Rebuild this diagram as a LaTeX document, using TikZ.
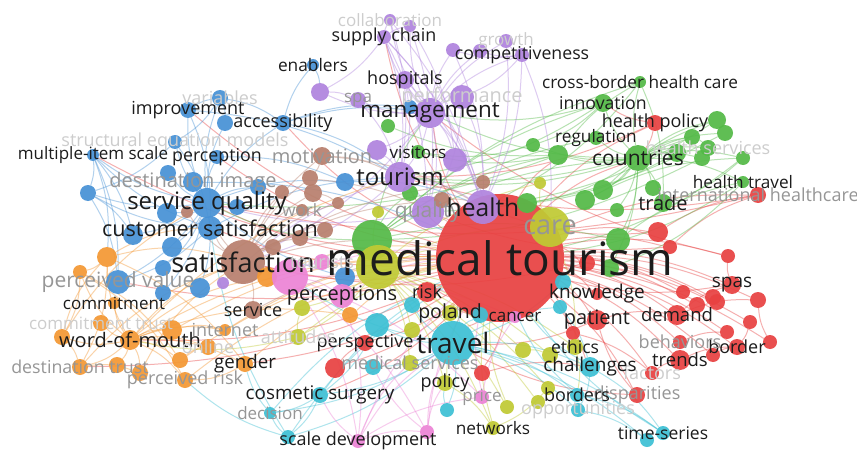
\documentclass[tikz,border=0pt]{standalone}
\usepackage{fontspec}
\setmainfont{Open Sans}

\definecolor{vred}{RGB}{232,66,66}
\definecolor{vgreen}{RGB}{84,186,72}
\definecolor{vblue}{RGB}{72,146,214}
\definecolor{vpurple}{RGB}{176,132,222}
\definecolor{vbrown}{RGB}{184,128,110}
\definecolor{vorange}{RGB}{244,152,52}
\definecolor{vyellow}{RGB}{192,202,52}
\definecolor{vcyan}{RGB}{62,192,212}
\definecolor{vpink}{RGB}{236,132,214}
\definecolor{ink}{RGB}{28,28,28}
\definecolor{faint}{RGB}{150,150,150}
\definecolor{fainter}{RGB}{205,205,205}

\pgfdeclarelayer{links}
\pgfdeclarelayer{words}
\pgfsetlayers{links,main,words}

\begin{document}
\begin{tikzpicture}[x=1pt,y=-1pt,
  dot/.style={circle,inner sep=0pt,draw=none,fill opacity=0.93},
  link/.style={line width=1pt,draw opacity=0.42},
  word/.style={inner sep=0pt,anchor=center}]

\useasboundingbox (0,0) rectangle (857,452);

% circles: name/x/y/radius/colour
\foreach \n/\x/\y/\r/\c in {
  mt/500/258/64/vred,
  hpol/655/123/8/vred, ihc/758/195/8/vred, r1/658/232/10/vred, r2/670/247/7/vred,
  r3/728/256/7/vred, r4/587/263/8/vred, spas/732/285/9/vred, r5/683/292/7/vred,
  r6/758/300/8/vred, r7/713/297/8/vred, dem/677/315/10/vred, r8/697/305/8/vred,
  r9/717/302/8/vred, pat/597/320/10/vred, r11/750/322/7/vred, r12/727/332/7/vred,
  bord/737/347/8/vred, r13/770/342/7/vred, beh/680/342/7/vred, r14/713/355/7/vred,
  trends/680/360/10/vred, fact/652/373/7/vred, disp/637/395/8/vred, r15/573/333/7/vred,
  r16/482/373/8/vred, persp/365/343/8/vred, r17/335/368/10/vred, risk/427/292/10/vred,
  know/597/294/6/vred,
  cbhc/640/82/6/vgreen, innov/603/103/9/vgreen, g1/717/120/9/vgreen, g2/725/133/8/vgreen,
  regul/596/138/7/vgreen, g3/533/145/7/vgreen, g4/558/155/10/vgreen, g5/692/137/8/vgreen,
  g6/708/148/8/vgreen, g7/702/158/8/vgreen, g8/743/158/7/vgreen, g9/677/153/9/vgreen,
  ctry/638/158/13/vgreen, htrav/743/182/6/vgreen, trade/663/203/9/vgreen,
  g11/603/190/10/vgreen, g12/653/188/8/vgreen, g13/585/200/10/vgreen, g14/617/210/7/vgreen,
  g15/527/203/10/vgreen, g16/618/240/12/vgreen, g17/610/268/9/vgreen, g18/388/126/7/vgreen,
  vis/418/152/7/vgreen, g19/410/193/8/vgreen, gbig/372/240/20/vgreen,
  enab/313/65/6/vblue, var/220/98/8/vblue, impr/188/110/8/vblue, b1/225/123/8/vblue,
  acc/283/123/8/vblue, sem/175/142/7/vblue, mis/93/155/6/vblue, perc/217/157/7/vblue,
  dimg/193/182/10/vblue, b2/168/173/8/vblue, b3/258/187/8/vblue, b4/88/193/8/vblue,
  sq/207/203/15/vblue, b5/167/213/10/vblue, b6/237/207/8/vblue, cs/210/228/12/vblue,
  b7/133/235/10/vblue, b8/172/247/10/vblue, b9/163/268/8/vblue, pval/118/282/12/vblue,
  b10/163/293/8/vblue, b11/200/288/10/vblue, b12/345/182/9/vblue, b13/410/107/7/vblue,
  b14/345/277/10/vblue,
  collab/390/20/6/vpurple, p2/410/26/6/vpurple, sc/384/37/7/vpurple, p3/453/50/7/vpurple,
  p4/480/51/7/vpurple, growth/506/41/7/vpurple, comp/522/55/7/vpurple, p5/320/92/9/vpurple,
  hosp/405/80/9/vpurple, spa/358/100/8/vpurple, perf/462/97/12/vpurple, mgmt/430/113/15/vpurple,
  p6/455/160/12/vpurple, p7/377/150/10/vpurple, tour/400/177/15/vpurple, qual/428/212/16/vpurple,
  hlth/483/207/17/vpurple, p8/223/283/6/vpurple,
  motiv/322/156/9/vbrown, br1/310/178/8/vbrown, br2/313/193/9/vbrown, br3/282/192/7/vbrown,
  work/302/210/6/vbrown, br4/338/203/6/vbrown, br5/325/230/8/vbrown, br6/300/238/8/vbrown,
  br7/273/247/8/vbrown, br8/187/212/6/vbrown, sat/243/262/22/vbrown, serv/253/310/9/vbrown,
  br9/483/182/7/vbrown, br10/442/200/8/vbrown,
  o1/107/257/10/vorange, o2/80/272/7/vorange, comm/114/303/6/vorange, ctrust/101/323/8/vorange,
  wom/130/340/10/vorange, o3/62/337/8/vorange, o4/172/330/10/vorange, inet/225/330/6/vorange,
  online/208/347/8/vorange, dtrust/80/367/8/vorange, o5/117/365/8/vorange, o6/140/373/8/vorange,
  o7/180/360/8/vorange, prisk/185/380/8/vorange, gend/245/364/8/vorange, o8/267/277/10/vorange,
  o9/350/315/8/vorange,
  ybig/378/267/22/vyellow, care/550/227/20/vyellow, y1/540/183/6/vyellow, y2/378/212/6/vyellow,
  y3/302/308/8/vyellow, att/298/337/8/vyellow, y4/412/330/8/vyellow, pol/450/313/8/vyellow,
  y5/523/350/8/vyellow, ethics/575/347/8/vyellow, y6/550/355/8/vyellow, msvc/410/363/8/vyellow,
  polic/445/383/8/vyellow, y7/507/407/7/vyellow, y8/538/402/7/vyellow, y9/548/388/7/vyellow,
  netw/493/428/7/vyellow,
  trav/453/343/22/vcyan, c1/412/305/8/vcyan, c2/377/325/12/vcyan, c3/373/367/8/vcyan,
  c4/447/410/7/vcyan, c5/480/315/8/vcyan, c6/560/307/7/vcyan, c9/563/282/8/vcyan,
  chall/590/367/10/vcyan, bords/577/395/7/vcyan, opp/578/410/7/vcyan, ts/663/433/7/vcyan,
  c7/647/440/7/vcyan, cosm/320/395/8/vcyan, dec/270/413/6/vcyan, c8/288/437/7/vcyan,
  pk1/290/277/18/vpink, tourists/322/262/8/vpink, percp/342/296/12/vpink, cancer/515/317/6/vpink,
  price/482/397/7/vpink, sd/358/441/7/vpink, pk2/427/432/7/vpink}
  \node[dot,fill=\c,minimum size=2*\r pt] (\n) at (\x,\y) {};

\begin{pgfonlayer}{links}
\fill[white] (0,0) rectangle (857,452);
% red
\foreach \a/\b in {mt/hpol,mt/ihc,mt/r1,mt/r2,mt/r3,mt/spas,mt/r5,mt/r6,mt/r7,mt/dem,mt/r8,
  mt/r9,mt/pat,mt/r11,mt/r12,mt/bord,mt/beh,mt/r13,mt/trends,mt/fact,mt/disp,mt/r14,mt/r15,
  mt/persp,mt/r16,mt/risk,mt/r4,mt/know,mt/r17,mt/sq,mt/cs,mt/sat,mt/mgmt,mt/tour,mt/acc,
  mt/perc,mt/wom,mt/pval,mt/sc,mt/dtrust,mt/cosm,mt/gend,mt/chall,mt/impr,mt/mis,
  hpol/innov,hpol/ctry,dem/spas,dem/r6,trends/bord,r11/bord,spas/r3,pat/dem,fact/trends,
  disp/pat,beh/r12,r1/ihc,r2/ihc,r13/r6,r14/bord,r17/persp,r15/fact,
  mt/g4,mt/ctry,mt/trav,mt/pol,mt/cancer,ihc/sq,r1/hlth,ihc/tour,r3/mgmt,hpol/tour,
  r2/qual,r4/sat,pat/trav,spas/mt,r16/chall,disp/trav}
  \draw[link,vred] (\a) to[bend left=12] (\b);
% green
\foreach \a/\b in {ctry/cbhc,ctry/innov,ctry/g1,ctry/g2,ctry/regul,ctry/g3,ctry/g4,ctry/g5,
  ctry/g6,ctry/g7,ctry/g8,ctry/g9,ctry/htrav,ctry/trade,ctry/g11,ctry/g12,ctry/g13,ctry/g14,
  ctry/g15,ctry/g16,ctry/g17,g4/g18,g4/vis,gbig/ctry,gbig/g4,gbig/g19,gbig/regul,gbig/innov,
  gbig/cbhc,g16/htrav,g13/g8,g11/g1,innov/g3,cbhc/trade,gbig/sq,gbig/mgmt,innov/mgmt,
  g8/trade,g1/g2,g5/g6,htrav/g17,g4/cbhc,g3/vis,gbig/g16,
  ctry/mgmt,ctry/tour,g1/hlth,g2/qual,g8/mt,htrav/mt,g5/tour,innov/tour,cbhc/hlth,g4/sq,
  g7/gbig,g9/hlth}
  \draw[link,vgreen] (\a) to[bend left=12] (\b);
% blue
\foreach \a/\b in {sq/var,sq/impr,sq/b1,sq/acc,sq/sem,sq/mis,sq/perc,sq/dimg,sq/b2,sq/b3,
  sq/b4,sq/b5,sq/b6,sq/cs,sq/b7,sq/b8,sq/b9,sq/pval,sq/b10,sq/b11,sq/b12,cs/pval,cs/mis,
  cs/b4,acc/enab,acc/b13,acc/mgmt,impr/var,var/b1,mis/pval,b4/b7,mis/b4,perc/b12,acc/tour,
  b14/sq,sem/cs,enab/p5,b13/mgmt,impr/cs,b4/pval,var/acc,dimg/mt,
  mis/b7,sem/b4,var/sem,mis/o1,impr/tour,cs/tour,b12/hlth}
  \draw[link,vblue] (\a) to[bend left=12] (\b);
% purple
\foreach \a/\b in {mgmt/collab,mgmt/p2,mgmt/sc,mgmt/p3,mgmt/p4,mgmt/growth,mgmt/comp,
  mgmt/p5,mgmt/hosp,mgmt/spa,mgmt/perf,mgmt/p6,mgmt/p7,mgmt/tour,mgmt/qual,mgmt/hlth,
  sc/collab,sc/p2,sc/tour,sc/hlth,sc/qual,comp/p3,comp/p4,comp/growth,comp/perf,comp/care,
  hosp/hlth,perf/hlth,tour/hlth,tour/qual,p7/tour,p5/spa,spa/tour,collab/hlth,p2/p6,
  tour/sat,qual/sq,hlth/mt,p8/tour,growth/hlth,sc/p5,p3/hlth,
  comp/hlth,sc/mt,hosp/tour,perf/qual,mgmt/sat,collab/tour,p2/qual}
  \draw[link,vpurple] (\a) to[bend left=12] (\b);
% brown
\foreach \a/\b in {sat/motiv,sat/br1,sat/br2,sat/br3,sat/work,sat/br4,sat/br5,sat/br6,
  sat/br7,sat/br8,sat/serv,sat/br9,sat/br10,sat/cs,sat/sq,motiv/br1,br2/br4,motiv/tour,
  br10/hlth,sat/mt,serv/mt,motiv/hlth,br1/mt}
  \draw[link,vbrown] (\a) to[bend left=12] (\b);
% orange
\foreach \a/\b in {wom/o1,wom/o2,wom/comm,wom/ctrust,wom/o3,wom/o4,wom/inet,wom/online,
  wom/dtrust,wom/o5,wom/o6,wom/o7,wom/prisk,wom/gend,wom/o8,wom/o9,o1/o2,o1/cs,o3/dtrust,
  dtrust/o6,o1/sat,o3/o1,gend/prisk,o7/online,o4/inet,o8/mt,o9/mt,o2/prisk,wom/sat,wom/mt,
  o1/dtrust,o2/o3,o1/gend,o2/o7,prisk/mt,
  wom/tour,o4/mt,o7/mt,inet/mt,gend/mt,o6/sat,o3/sq,dtrust/sat}
  \draw[link,vorange] (\a) to[bend left=14] (\b);
% yellow
\foreach \a/\b in {ybig/care,ybig/y1,ybig/y2,ybig/y3,ybig/att,ybig/y4,ybig/pol,ybig/y5,
  ybig/ethics,ybig/y6,ybig/msvc,ybig/polic,ybig/y7,ybig/y8,ybig/y9,ybig/netw,care/y1,
  care/ethics,polic/netw,y5/y6,att/y3,ethics/bords,y9/netw,ybig/mt,att/wom,
  polic/mt,netw/mt,y7/mt,att/mt}
  \draw[link,vyellow] (\a) to[bend left=12] (\b);
% cyan
\foreach \a/\b in {trav/c1,trav/c2,trav/c3,trav/c4,trav/c5,trav/c6,trav/chall,trav/bords,
  trav/opp,trav/ts,trav/c7,trav/cosm,trav/dec,trav/c8,cosm/dec,cosm/c8,c8/dec,chall/ts,
  bords/ts,opp/c7,c2/cosm,dec/gend,c8/prisk,trav/mt,chall/opp,c6/chall,c4/polic,c9/trav,
  c8/sq,trav/pk1,cosm/mt,dec/mt,c8/mt,ts/mt,chall/mt,bords/mt}
  \draw[link,vcyan] (\a) to[bend left=12] (\b);
% pink
\foreach \a/\b in {pk1/tourists,pk1/percp,pk1/cancer,pk1/price,pk1/sd,pk1/pk2,sd/pk2,
  sd/price,sd/cosm,pk2/polic,pk2/trav,percp/sd,price/cancer,pk1/mt,percp/mt,sd/msvc,pk2/c3,
  sd/trav,sd/mt,pk2/mt,price/mt}
  \draw[link,vpink] (\a) to[bend left=12] (\b);
\end{pgfonlayer}

\begin{pgfonlayer}{words}
% labels: name/text/size/colour
\foreach \n/\t/\s/\k in {
  mt/medical tourism/46/ink, hpol/health policy/18/ink, ihc/international healthcare/18/faint,
  spas/spas/19/ink, dem/demand/18.5/ink, pat/patient/20/ink, bord/border/18/ink,
  beh/behaviors/18/faint, trends/trends/18.5/ink, fact/factors/18/fainter,
  disp/disparities/18/faint, persp/perspective/18/ink, risk/risk/18/ink, know/knowledge/19/ink,
  cbhc/cross-border health care/17.2/ink, innov/innovation/17.7/ink, regul/regulation/17.2/ink,
  g6/health services/18/fainter, ctry/countries/21/ink, htrav/health travel/17.2/ink,
  trade/trade/20/ink, vis/visitors/17/ink,
  enab/enablers/17.3/ink, var/variables/18/fainter, impr/improvement/18/ink,
  acc/accessibility/18/ink, sem/structural equation models/18/fainter,
  mis/multiple-item scale/17/ink, perc/perception/17.8/ink, dimg/destination image/20/faint,
  sq/service quality/24/ink, cs/customer satisfaction/21.6/ink, pval/perceived value/21/faint,
  collab/collaboration/17/fainter, sc/supply chain/17.9/ink, growth/growth/17/fainter,
  comp/competitiveness/17.7/ink, hosp/hospitals/18/ink, spa/spa/17/faint,
  perf/performance/20/fainter, mgmt/management/22.4/ink, tour/tourism/24/ink,
  qual/quality/21/faint, hlth/health/24.6/ink,
  motiv/motivation/20/faint, work/work/17/faint, sat/satisfaction/27/ink, serv/service/18/ink,
  tourists/tourists/18/fainter,
  comm/commitment/17/ink, ctrust/commitment trust/17/fainter, wom/word-of-mouth/20/ink,
  inet/internet/18/faint, online/online/18/fainter, dtrust/destination trust/17.8/faint,
  prisk/perceived risk/18/faint, gend/gender/18.7/ink,
  care/care/27/faint, att/attitudes/18/fainter, pol/poland/19.5/ink, ethics/ethics/17.5/ink,
  msvc/medical services/18/faint, polic/policy/18/ink, netw/networks/17.2/ink,
  trav/travel/28/ink, chall/challenges/19/ink, bords/borders/18/ink,
  opp/opportunities/18/fainter, ts/time-series/17.5/ink, cosm/cosmetic surgery/18.8/ink,
  dec/decision/17/faint, percp/perceptions/20/ink, cancer/cancer/17/ink, price/price/17/faint,
  sd/scale development/18/ink}
  \node[word,text=\k,font=\fontsize{\s}{\s}\selectfont] (\n-t) at (\n) {\t};
\end{pgfonlayer}
\end{tikzpicture}
\end{document}
